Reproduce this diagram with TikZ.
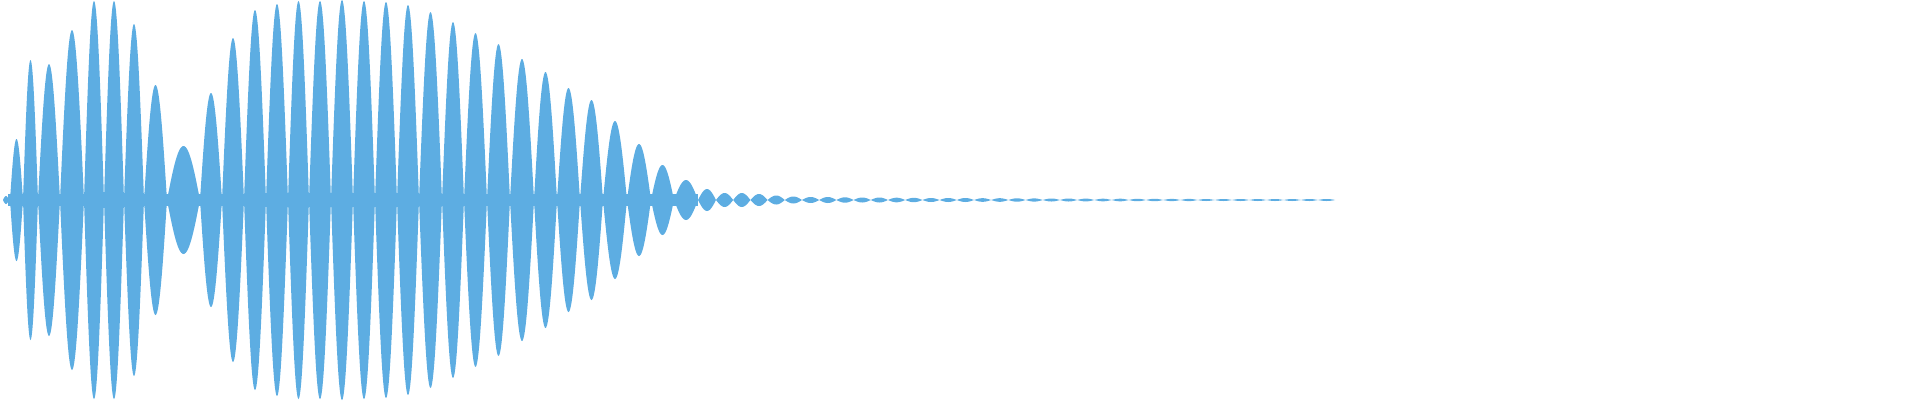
\documentclass[tikz,border=0pt]{standalone}
\definecolor{wavec}{RGB}{93,173,226}
\tikzset{wave/.style={fill=wavec,draw=none}}
\begin{document}
\begin{tikzpicture}[x=1pt,y=1pt]
\useasboundingbox (0,-200) rectangle (1920,200);
\fill[wave] (8,-6.3) rectangle (698,6.3);
\foreach \a/\b/\h in {3/9/4,10/23/61,23/38/140,38/60/136,60/84/170,84/104/199,104/124/199,124/144/176,144/167/115,167/200/54,200/222/107,222/244/162,244/266/190,266/288/196,288/309/199,309/331/199,331/353/200,353/375/199,375/397/198,397/419/195,419/442/188,442/464/178,464/487/167,487/510/156,510/534/141,534/557/128,557/580/112,580/603/100,603/627/79,627/651/56,651/674/35,674/698/20,698/716/11}{
  \fill[wave] plot[variable=\t,domain=0:180,samples=31] ({\a+(\b-\a)*\t/180},{\h*sin(\t)}) -- plot[variable=\t,domain=180:0,samples=31] ({\a+(\b-\a)*\t/180},{-\h*sin(\t)}) -- cycle;
}
\foreach \h [count=\k] in {7,7,6,4.5,3.5,3,3,2.7,2.5,2.5,2.3,2.2,2,2,2,1.8,1.8,1.7,1.6,1.5,1.5,1.4,1.3,1.3,1.2,1.2,1.1,1.1,1,1,1,1,1,1,1,1}{
  \pgfmathsetmacro{\a}{716+(\k-1)*17.2}
  \fill[wave] plot[variable=\t,domain=0:180,samples=21] ({\a+17.2*\t/180},{\h*sin(\t)}) -- plot[variable=\t,domain=180:0,samples=21] ({\a+17.2*\t/180},{-\h*sin(\t)}) -- cycle;
}
\end{tikzpicture}
\end{document}
